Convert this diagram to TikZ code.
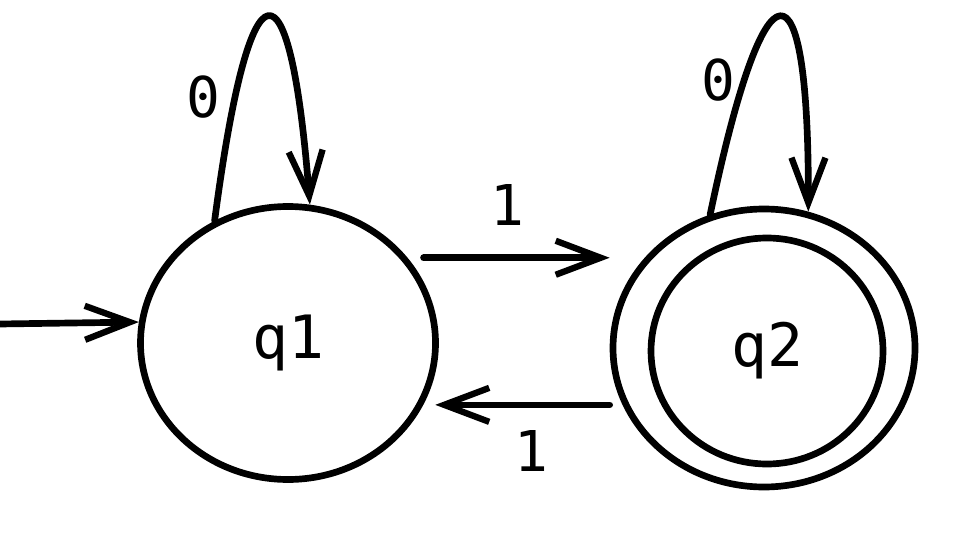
\documentclass[tikz,border=0pt]{standalone}
\usepackage{fontspec}
\setmonofont{DejaVu Sans Mono}
\usetikzlibrary{arrows.meta,shapes.geometric}

\tikzset{
  state/.style={ellipse, draw, inner sep=0pt},
  arr/.style={-{Straight Barb[length=4.5mm, width=3.4mm, line width=1.8pt]}},
  lbl/.style={font=\ttfamily\fontsize{16}{19}\selectfont}
}

\begin{document}
\begin{tikzpicture}[line width=1.9pt, line cap=round, line join=round, font=\ttfamily\fontsize{17}{20}\selectfont]
  % frame with the reference's proportions
  \useasboundingbox (0,0) rectangle (9.59,5.57);

  % states
  \node[state, minimum width=2.95cm, minimum height=2.73cm] (q1) at (2.88,2.14) {q1};
  \node[state, minimum width=3.02cm, minimum height=2.78cm] (q2out) at (7.64,2.09) {};
  \node[state, minimum width=2.32cm, minimum height=2.26cm] (q2) at (7.67,2.06) {q2};

  % start arrow
  \coordinate (init) at (0,2.33);
  \draw[arr] (init) -- (q1.172);

  % transitions between states
  \draw[arr] ([shift={(0.12,0.05)}]q1.33) coordinate (a) -- (a -| q2out.west)
    node[lbl, pos=0.45, above=5pt] (t12) {1};
  \coordinate (b) at ([shift={(0.09,-0.06)}]q1.338);
  \draw[arr] (b -| q2out.west) -- (b)
    node[lbl, pos=0.45, below=3pt] (t21) {1};

  % self loops
  \draw[arr] (q1.121) .. controls (2.50,6.05) and (2.90,6.05) .. (q1.81);
  \node[lbl] (l1) at (2.03,4.60) {0};
  \draw[arr] (q2out.112) .. controls (7.65,6.05) and (8.09,6.05) .. (q2out.72);
  \node[lbl] (l2) at (7.18,4.77) {0};
\end{tikzpicture}
\end{document}
